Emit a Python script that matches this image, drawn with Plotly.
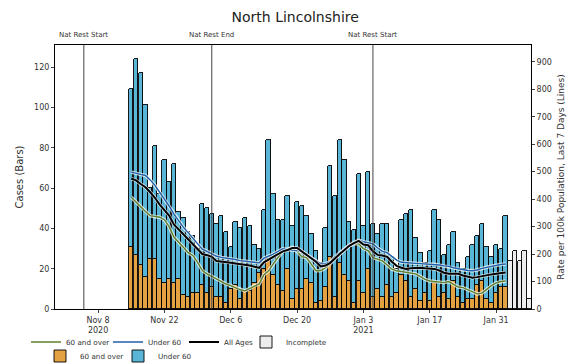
import pandas as pd
import plotly.graph_objects as go

# ---------------- data ----------------
start_date = "2020-11-15"
total_cases = [109, 124, 117, 101, 60, 81, 57, 74, 63, 72, 48, 45, 38, 36, 30, 52,
               50, 47, 42, 46, 38, 31, 43, 40, 45, 41, 32, 30, 49, 84,
               57, 44, 44, 56, 41, 53, 51, 46, 37, 29, 23, 40, 71, 56, 84, 74,
               43, 39, 67, 41, 68, 42, 37, 42, 42, 26, 20, 44, 47, 49, 35, 28,
               23, 29, 49, 44, 27, 32, 38, 23, 20, 26, 32, 36, 42, 31, 26, 32,
               30, 46]
over60_cases = [31, 27, 22, 16, 25, 25, 15, 13, 15, 13, 15, 7, 6, 8, 8, 12,
                8, 11, 6, 6, 3, 10, 12, 5, 9, 9, 13, 18, 20, 25,
                17, 12, 9, 20, 5, 10, 10, 15, 13, 3, 4, 11, 26, 6, 23, 17,
                14, 3, 14, 8, 20, 6, 10, 6, 12, 6, 8, 17, 14, 6, 10, 4,
                8, 4, 13, 6, 8, 5, 14, 6, 3, 5, 5, 12, 14, 5, 3, 8,
                11, 11]
incomplete_cases = [24, 29, 24, 29, 5]

rate_all = [475, 468, 455, 443, 425, 405, 380, 360, 340, 308, 290, 272, 255, 238, 220, 200,
            196, 190, 175, 172, 170, 168, 166, 164, 160, 158, 154, 150, 170, 180,
            192, 200, 210, 215, 222, 222, 210, 198, 185, 172, 155, 158, 168, 185, 200, 215,
            230, 240, 248, 235, 232, 210, 197, 195, 190, 172, 157, 150, 146, 148, 150, 150,
            148, 146, 146, 140, 132, 128, 128, 128, 122, 118, 114, 116, 120, 124, 126, 128,
            130, 133]
rate_under60 = [498, 495, 490, 486, 470, 450, 425, 400, 375, 345, 320, 298, 278, 258, 238, 218,
                210, 200, 192, 188, 186, 182, 180, 176, 174, 172, 170, 168, 185, 192,
                200, 210, 219, 216, 214, 212, 210, 198, 186, 174, 164, 165, 172, 190, 205, 220,
                232, 242, 250, 245, 240, 237, 222, 210, 205, 190, 178, 170, 168, 168, 166, 165,
                164, 164, 163, 160, 157, 155, 150, 146, 142, 140, 139, 142, 148, 152, 156, 160,
                162, 164]
rate_over60 = [407, 390, 370, 355, 340, 336, 334, 325, 300, 262, 245, 225, 205, 195, 170, 140,
               128, 118, 108, 98, 91, 85, 78, 70, 66, 75, 85, 91, 125, 139,
               165, 190, 212, 218, 224, 210, 190, 187, 165, 139, 140, 150, 165, 185, 200, 215,
               230, 237, 237, 220, 212, 187, 180, 175, 160, 145, 139, 136, 133, 132, 128, 118,
               108, 102, 100, 97, 96, 100, 90, 80, 78, 70, 62, 55, 58, 73, 85, 95,
               100, 102]

restriction_dates = ["2020-11-05", "2020-12-02", "2021-01-05"]
restriction_labels = ["Nat Rest Start", "Nat Rest End", "Nat Rest Start"]

tick_dates = ["2020-11-08", "2020-11-22", "2020-12-06", "2020-12-20",
              "2021-01-03", "2021-01-17", "2021-01-31"]
tick_labels = ["Nov 8<br>2020", "Nov 22", "Dec 6", "Dec 20",
               "Jan 3<br>2021", "Jan 17", "Jan 31"]

# ---------------- derived ----------------
n_complete = len(total_cases)
dates = pd.date_range(start_date, periods=n_complete + len(incomplete_cases), freq="D")
complete_dates = dates[:n_complete]
incomplete_dates = dates[n_complete:]
under60_cases = [t - o for t, o in zip(total_cases, over60_cases)]

ORANGE = "#E3A142"
TEAL = "#5AB6D6"
GREEN = "#5E7F2A"
BLUE = "#1F5FA8"
FONT = "DejaVu Sans"
bar_w = 86400000 * 0.92

W, H = 571, 364
ML, MR, MT, MB = 55, 40, 45, 55
PW, PH = W - ML - MR, H - MT - MB

fig = go.Figure()

# lines (legend row 1)
for vals, col, name, lg in [(rate_over60, GREEN, "60 and over", "legend"),
                            (rate_under60, BLUE, "Under 60", "legend2"),
                            (rate_all, "black", "All Ages", "legend3")]:
    fig.add_trace(go.Scatter(x=complete_dates, y=vals, mode="lines", yaxis="y2",
                             line=dict(color="rgba(255,255,255,0.75)", width=3.4),
                             hoverinfo="skip", showlegend=False))
    fig.add_trace(go.Scatter(x=complete_dates, y=vals, mode="lines", yaxis="y2",
                             name=name, legend=lg,
                             line=dict(color=col, width=2.0 if col == "black" else 1.4)))

# bars
fig.add_trace(go.Bar(x=incomplete_dates, y=incomplete_cases, name="Incomplete",
                     legend="legend4", width=bar_w,
                     marker=dict(color="#EDEDED", line=dict(color="black", width=0.9))))
fig.add_trace(go.Bar(x=complete_dates, y=over60_cases, name="60 and over",
                     legend="legend5", width=bar_w,
                     marker=dict(color=ORANGE, line=dict(color="black", width=0.9))))
fig.add_trace(go.Bar(x=complete_dates, y=under60_cases, name="Under 60",
                     legend="legend6", width=bar_w,
                     marker=dict(color=TEAL, line=dict(color="black", width=0.9))))

# restriction lines and labels
for d, lab in zip(restriction_dates, restriction_labels):
    fig.add_shape(type="line", x0=d, x1=d, y0=0, y1=1, xref="x", yref="paper",
                  line=dict(color="#444444", width=1), layer="above")
    fig.add_annotation(x=d, y=1.0, xref="x", yref="paper", text=lab, showarrow=False,
                       yanchor="bottom", yshift=4, font=dict(size=7, color="#333"))


def leg(px, py):
    return dict(orientation="h", x=(px - ML) / PW, xanchor="left",
                y=(H - MB - py) / PH, yanchor="middle",
                font=dict(size=7.2), itemwidth=30, bgcolor="rgba(0,0,0,0)")


fig.update_layout(
    width=W, height=H,
    margin=dict(l=ML, r=MR, t=MT, b=MB, autoexpand=False),
    paper_bgcolor="white", plot_bgcolor="white",
    barmode="stack", bargap=0,
    font=dict(family=FONT, size=8, color="#333"),
    title=dict(text="North Lincolnshire", x=0.517, xanchor="center",
               y=1 - 17 / H, yanchor="middle", font=dict(size=14, color="#222")),
    xaxis=dict(type="date", range=["2020-10-29 22:00", "2021-02-07 08:30"],
               tickvals=tick_dates, ticktext=tick_labels, ticks="outside", ticklen=3,
               showgrid=False, showline=True, linecolor="black", linewidth=1,
               mirror=True, tickfont=dict(size=8), automargin=False),
    yaxis=dict(range=[0, 131], tickvals=[0, 20, 40, 60, 80, 100, 120],
               ticks="outside", ticklen=3, showgrid=False, zeroline=False,
               showline=True, linecolor="black", linewidth=1, automargin=False,
               title=dict(text="Cases (Bars)", font=dict(size=10), standoff=8)),
    yaxis2=dict(range=[0, 961], tickvals=list(range(0, 1000, 100)), overlaying="y",
                side="right", ticks="outside", ticklen=3, showgrid=False, zeroline=False,
                showline=True, linecolor="black", linewidth=1, automargin=False,
                title=dict(text="Rate per 100k Population, Last 7 Days (Lines)",
                           font=dict(size=9), standoff=6)),
    legend=leg(26, 342),
    legend2=leg(108, 342),
    legend3=leg(184, 342),
    legend4=leg(246, 342),
    legend5=leg(40, 356),
    legend6=leg(118, 356),
)

fig.write_html("out.html", config={"displayModeBar": False},
               post_script="document.body.style.margin='0px';document.body.style.overflow='hidden';")
